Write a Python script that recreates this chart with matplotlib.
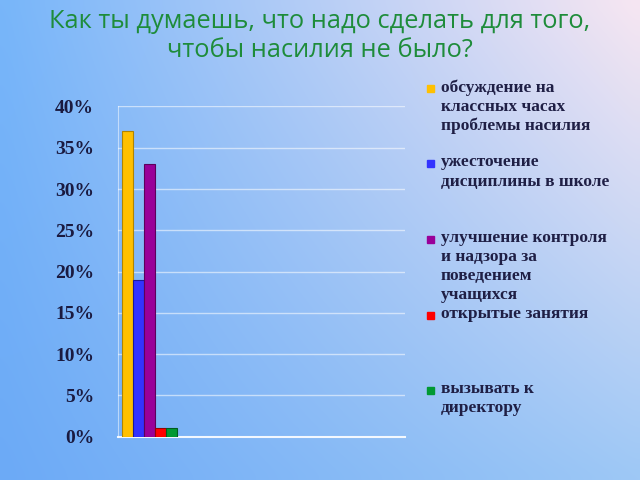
import matplotlib
matplotlib.use('Agg')
import matplotlib.pyplot as plt
import numpy as np
from matplotlib.patches import Rectangle
from matplotlib.ticker import FuncFormatter

title = "Как ты думаешь, что надо сделать для того,\nчтобы насилия не было?"
labels = ["обсуждение на\nклассных часах\nпроблемы насилия",
          "ужесточение\nдисциплины в школе",
          "улучшение контроля\nи надзора за\nповедением\nучащихся",
          "открытые занятия",
          "вызывать к\nдиректору"]
values = [37, 19, 33, 1, 1]
colors = ["#ffc000", "#3333ff", "#990099", "#ff0000", "#009933"]
edges = ["#b08400", "#1a1a99", "#5c005c", "#990000", "#005c1f"]
yticks = [0, 5, 10, 15, 20, 25, 30, 35, 40]

fig = plt.figure(figsize=(6.4, 4.8), dpi=100)

# gradient background
bg = fig.add_axes([0, 0, 1, 1], zorder=-10)
tl = np.array([120, 182, 250]) / 255
tr = np.array([246, 230, 242]) / 255
bl = np.array([108, 170, 246]) / 255
br = np.array([158, 200, 246]) / 255
u = np.linspace(0, 1, 64)[None, :, None]
v = np.linspace(0, 1, 48)[:, None, None]
img = (1 - v) * ((1 - u) * tl + u * tr) + v * ((1 - u) * bl + u * br)
bg.imshow(img, aspect='auto', extent=[0, 1, 0, 1], interpolation='bicubic')
bg.axis('off')

fig.text(0.5, 1 - 36 / 480, title, ha='center', va='center', color='#1e8c3a',
         fontsize=18.3, family='Open Sans', linespacing=1.2)

ax = fig.add_axes([0.184, 0.0902, 0.449, 0.688])
ax.patch.set_alpha(0)
x = np.arange(len(values))
ax.bar(x, values, width=1.0, color=colors, edgecolor=edges, linewidth=0.8, zorder=3)
ax.set_xlim(-0.86, 25.2)
ax.set_ylim(0, 40)
ax.set_yticks(yticks)
ax.yaxis.set_major_formatter(FuncFormatter(lambda v, p: f"{v:.0f}%"))
ax.set_xticks([])
ax.tick_params(axis='y', length=0, pad=17, labelsize=14, labelcolor='#1a1a40')
for t in ax.get_yticklabels():
    t.set_fontfamily('Liberation Serif')
    t.set_fontweight('bold')
ax.grid(axis='y', color='white', alpha=0.55, linewidth=1.0, zorder=0)
for s in ['top', 'right']:
    ax.spines[s].set_visible(False)
ax.spines['left'].set_color((1, 1, 1, 0.5))
ax.spines['bottom'].set_color((1, 1, 1, 0.9))
ax.spines['bottom'].set_linewidth(1.5)

# legend, entries spread evenly down the right side
y0 = 88
step = 75.5
for i, (lab, c) in enumerate(zip(labels, colors)):
    ytop = y0 + i * step
    fig.add_artist(Rectangle((427 / 640, 1 - (ytop + 4) / 480), 7 / 640, 7 / 480,
                             transform=fig.transFigure, color=c))
    fig.text(441 / 640, 1 - (ytop - 9) / 480, lab, ha='left', va='top',
             fontsize=12.5, family='Liberation Serif', weight='bold',
             color='#1f1f45', linespacing=1.26)

fig.savefig("out.png", dpi=100)
